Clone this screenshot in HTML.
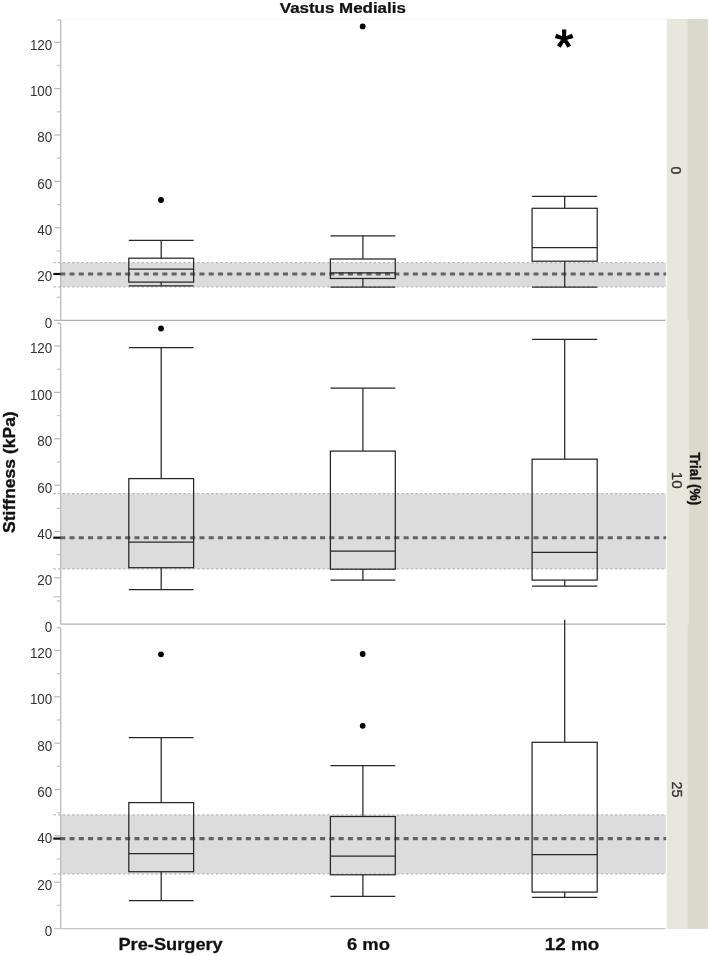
<!DOCTYPE html><html><head><meta charset="utf-8"><title>Vastus Medialis</title>
<style>html,body{margin:0;padding:0;background:#fff;}svg{display:block}text{font-family:"Liberation Sans",sans-serif;}</style></head><body>
<svg width="709" height="956" viewBox="0 0 709 956">
<rect width="709" height="956" fill="#fff"/>
<rect x="666.9" y="19.0" width="41.0" height="909.9" fill="#dbd9cb"/>
<rect x="666.9" y="19.0" width="20.6" height="302" fill="#e8e7de"/>
<rect x="666.9" y="320.6" width="22.2" height="304" fill="#e8e7de"/>
<rect x="666.9" y="624.3" width="20.7" height="304.6" fill="#e8e7de"/>
<line x1="60.7" x2="667" y1="18.9" y2="18.9" stroke="#f6f6f6" stroke-width="1.2"/>
<rect x="60.7" y="262.7" width="605.0" height="24.1" fill="#dcdcdc"/>
<line x1="53.5" x2="666.2" y1="262.7" y2="262.7" stroke="#b8b8b8" stroke-width="1.2" stroke-dasharray="2.32 2.32"/>
<line x1="53.5" x2="666.2" y1="286.8" y2="286.8" stroke="#b8b8b8" stroke-width="1.2" stroke-dasharray="2.32 2.32"/>
<line x1="54.2" x2="665.4" y1="320.45" y2="320.45" stroke="#b0b0b0" stroke-width="1.3"/>
<line x1="60.7" x2="60.7" y1="20.0" y2="320.45" stroke="#b9b9b9" stroke-width="1.3"/>
<line x1="56.8" x2="60.7" y1="20.0" y2="20.0" stroke="#b9b9b9" stroke-width="1.2"/>
<text transform="translate(52.3 327.85) scale(0.96 1)" font-size="14" text-anchor="end" fill="#333">0</text>
<line x1="56.8" x2="60.7" y1="297.27" y2="297.27" stroke="#c4c4c4" stroke-width="1.2"/>
<line x1="54.2" x2="60.7" y1="274.09" y2="274.09" stroke="#b9b9b9" stroke-width="1.2"/>
<text transform="translate(52.3 281.49) scale(0.96 1)" font-size="14" text-anchor="end" fill="#333">20</text>
<line x1="56.8" x2="60.7" y1="250.91" y2="250.91" stroke="#c4c4c4" stroke-width="1.2"/>
<line x1="54.2" x2="60.7" y1="227.73" y2="227.73" stroke="#b9b9b9" stroke-width="1.2"/>
<text transform="translate(52.3 235.13) scale(0.96 1)" font-size="14" text-anchor="end" fill="#333">40</text>
<line x1="56.8" x2="60.7" y1="204.55" y2="204.55" stroke="#c4c4c4" stroke-width="1.2"/>
<line x1="54.2" x2="60.7" y1="181.37" y2="181.37" stroke="#b9b9b9" stroke-width="1.2"/>
<text transform="translate(52.3 188.77) scale(0.96 1)" font-size="14" text-anchor="end" fill="#333">60</text>
<line x1="56.8" x2="60.7" y1="158.19" y2="158.19" stroke="#c4c4c4" stroke-width="1.2"/>
<line x1="54.2" x2="60.7" y1="135.01" y2="135.01" stroke="#b9b9b9" stroke-width="1.2"/>
<text transform="translate(52.3 142.41) scale(0.96 1)" font-size="14" text-anchor="end" fill="#333">80</text>
<line x1="56.8" x2="60.7" y1="111.83" y2="111.83" stroke="#c4c4c4" stroke-width="1.2"/>
<line x1="54.2" x2="60.7" y1="88.65" y2="88.65" stroke="#b9b9b9" stroke-width="1.2"/>
<text transform="translate(52.3 96.05) scale(0.96 1)" font-size="14" text-anchor="end" fill="#333">100</text>
<line x1="56.8" x2="60.7" y1="65.47" y2="65.47" stroke="#c4c4c4" stroke-width="1.2"/>
<line x1="54.2" x2="60.7" y1="42.29" y2="42.29" stroke="#b9b9b9" stroke-width="1.2"/>
<text transform="translate(52.3 49.69) scale(0.96 1)" font-size="14" text-anchor="end" fill="#333">120</text>
<line x1="60.2" x2="666.2" y1="274.0" y2="274.0" stroke="#636363" stroke-width="3.1" stroke-dasharray="5.1 4.18"/>
<line x1="53.3" x2="60.6" y1="274.0" y2="274.0" stroke="#111" stroke-width="2.2"/>
<line x1="161.2" x2="161.2" y1="240.4" y2="258.2" stroke="#262626" stroke-width="1.25"/>
<line x1="161.2" x2="161.2" y1="282.1" y2="285.8" stroke="#262626" stroke-width="1.25"/>
<line x1="128.8" x2="193.6" y1="240.4" y2="240.4" stroke="#262626" stroke-width="1.25"/>
<line x1="128.8" x2="193.6" y1="285.8" y2="285.8" stroke="#262626" stroke-width="1.25"/>
<rect x="128.8" y="258.2" width="64.8" height="23.9" fill="none" stroke="#262626" stroke-width="1.25"/>
<line x1="128.8" x2="193.6" y1="269.2" y2="269.2" stroke="#262626" stroke-width="1.25"/>
<circle cx="161.0" cy="200.0" r="2.9" fill="#000"/>
<line x1="362.9" x2="362.9" y1="235.9" y2="259.0" stroke="#262626" stroke-width="1.25"/>
<line x1="362.9" x2="362.9" y1="278.5" y2="287.0" stroke="#262626" stroke-width="1.25"/>
<line x1="330.4" x2="395.3" y1="235.9" y2="235.9" stroke="#262626" stroke-width="1.25"/>
<line x1="330.4" x2="395.3" y1="287.0" y2="287.0" stroke="#262626" stroke-width="1.25"/>
<rect x="330.4" y="259.0" width="64.9" height="19.5" fill="none" stroke="#262626" stroke-width="1.25"/>
<line x1="330.4" x2="395.3" y1="272.8" y2="272.8" stroke="#262626" stroke-width="1.25"/>
<circle cx="362.7" cy="26.4" r="2.9" fill="#000"/>
<line x1="564.7" x2="564.7" y1="196.4" y2="208.3" stroke="#262626" stroke-width="1.25"/>
<line x1="564.7" x2="564.7" y1="261.2" y2="287.0" stroke="#262626" stroke-width="1.25"/>
<line x1="532.1" x2="597.2" y1="196.4" y2="196.4" stroke="#262626" stroke-width="1.25"/>
<line x1="532.1" x2="597.2" y1="287.0" y2="287.0" stroke="#262626" stroke-width="1.25"/>
<rect x="532.1" y="208.3" width="65.1" height="52.9" fill="none" stroke="#262626" stroke-width="1.25"/>
<line x1="532.1" x2="597.2" y1="247.7" y2="247.7" stroke="#262626" stroke-width="1.25"/>
<rect x="60.7" y="493.6" width="605.0" height="75.3" fill="#dcdcdc"/>
<line x1="53.5" x2="666.2" y1="493.6" y2="493.6" stroke="#b8b8b8" stroke-width="1.2" stroke-dasharray="2.32 2.32"/>
<line x1="53.5" x2="666.2" y1="568.9" y2="568.9" stroke="#b8b8b8" stroke-width="1.2" stroke-dasharray="2.32 2.32"/>
<line x1="60.7" x2="665.4" y1="624.2" y2="624.2" stroke="#b0b0b0" stroke-width="1.3"/>
<line x1="60.7" x2="60.7" y1="323.3" y2="624.2" stroke="#b9b9b9" stroke-width="1.3"/>
<line x1="56.8" x2="60.7" y1="323.3" y2="323.3" stroke="#b9b9b9" stroke-width="1.2"/>
<text transform="translate(52.3 631.60) scale(0.96 1)" font-size="14" text-anchor="end" fill="#333">0</text>
<line x1="56.8" x2="60.7" y1="601.02" y2="601.02" stroke="#c4c4c4" stroke-width="1.2"/>
<line x1="54.2" x2="60.7" y1="577.84" y2="577.84" stroke="#b9b9b9" stroke-width="1.2"/>
<text transform="translate(52.3 585.24) scale(0.96 1)" font-size="14" text-anchor="end" fill="#333">20</text>
<line x1="56.8" x2="60.7" y1="554.66" y2="554.66" stroke="#c4c4c4" stroke-width="1.2"/>
<line x1="54.2" x2="60.7" y1="531.48" y2="531.48" stroke="#b9b9b9" stroke-width="1.2"/>
<text transform="translate(52.3 538.88) scale(0.96 1)" font-size="14" text-anchor="end" fill="#333">40</text>
<line x1="56.8" x2="60.7" y1="508.30" y2="508.30" stroke="#c4c4c4" stroke-width="1.2"/>
<line x1="54.2" x2="60.7" y1="485.12" y2="485.12" stroke="#b9b9b9" stroke-width="1.2"/>
<text transform="translate(52.3 492.52) scale(0.96 1)" font-size="14" text-anchor="end" fill="#333">60</text>
<line x1="56.8" x2="60.7" y1="461.94" y2="461.94" stroke="#c4c4c4" stroke-width="1.2"/>
<line x1="54.2" x2="60.7" y1="438.76" y2="438.76" stroke="#b9b9b9" stroke-width="1.2"/>
<text transform="translate(52.3 446.16) scale(0.96 1)" font-size="14" text-anchor="end" fill="#333">80</text>
<line x1="56.8" x2="60.7" y1="415.58" y2="415.58" stroke="#c4c4c4" stroke-width="1.2"/>
<line x1="54.2" x2="60.7" y1="392.40" y2="392.40" stroke="#b9b9b9" stroke-width="1.2"/>
<text transform="translate(52.3 399.80) scale(0.96 1)" font-size="14" text-anchor="end" fill="#333">100</text>
<line x1="56.8" x2="60.7" y1="369.22" y2="369.22" stroke="#c4c4c4" stroke-width="1.2"/>
<line x1="54.2" x2="60.7" y1="346.04" y2="346.04" stroke="#b9b9b9" stroke-width="1.2"/>
<text transform="translate(52.3 353.44) scale(0.96 1)" font-size="14" text-anchor="end" fill="#333">120</text>
<line x1="60.2" x2="666.2" y1="537.7" y2="537.7" stroke="#636363" stroke-width="3.1" stroke-dasharray="5.1 4.18"/>
<line x1="53.3" x2="60.6" y1="537.7" y2="537.7" stroke="#111" stroke-width="2.2"/>
<line x1="161.2" x2="161.2" y1="347.6" y2="478.6" stroke="#262626" stroke-width="1.25"/>
<line x1="161.2" x2="161.2" y1="567.7" y2="589.7" stroke="#262626" stroke-width="1.25"/>
<line x1="128.8" x2="193.6" y1="347.6" y2="347.6" stroke="#262626" stroke-width="1.25"/>
<line x1="128.8" x2="193.6" y1="589.7" y2="589.7" stroke="#262626" stroke-width="1.25"/>
<rect x="128.8" y="478.6" width="64.8" height="89.1" fill="none" stroke="#262626" stroke-width="1.25"/>
<line x1="128.8" x2="193.6" y1="542.2" y2="542.2" stroke="#262626" stroke-width="1.25"/>
<circle cx="161.0" cy="328.5" r="2.9" fill="#000"/>
<line x1="362.9" x2="362.9" y1="388.0" y2="451.1" stroke="#262626" stroke-width="1.25"/>
<line x1="362.9" x2="362.9" y1="569.2" y2="580.0" stroke="#262626" stroke-width="1.25"/>
<line x1="330.4" x2="395.3" y1="388.0" y2="388.0" stroke="#262626" stroke-width="1.25"/>
<line x1="330.4" x2="395.3" y1="580.0" y2="580.0" stroke="#262626" stroke-width="1.25"/>
<rect x="330.4" y="451.1" width="64.9" height="118.1" fill="none" stroke="#262626" stroke-width="1.25"/>
<line x1="330.4" x2="395.3" y1="551.1" y2="551.1" stroke="#262626" stroke-width="1.25"/>
<line x1="564.7" x2="564.7" y1="339.4" y2="459.2" stroke="#262626" stroke-width="1.25"/>
<line x1="564.7" x2="564.7" y1="580.1" y2="586.0" stroke="#262626" stroke-width="1.25"/>
<line x1="532.1" x2="597.2" y1="339.4" y2="339.4" stroke="#262626" stroke-width="1.25"/>
<line x1="532.1" x2="597.2" y1="586.0" y2="586.0" stroke="#262626" stroke-width="1.25"/>
<rect x="532.1" y="459.2" width="65.1" height="120.9" fill="none" stroke="#262626" stroke-width="1.25"/>
<line x1="532.1" x2="597.2" y1="552.3" y2="552.3" stroke="#262626" stroke-width="1.25"/>
<rect x="60.7" y="814.9" width="605.0" height="58.9" fill="#dcdcdc"/>
<line x1="53.5" x2="666.2" y1="814.9" y2="814.9" stroke="#b8b8b8" stroke-width="1.2" stroke-dasharray="2.32 2.32"/>
<line x1="53.5" x2="666.2" y1="873.8" y2="873.8" stroke="#b8b8b8" stroke-width="1.2" stroke-dasharray="2.32 2.32"/>
<line x1="54.2" x2="665.4" y1="928.6" y2="928.6" stroke="#c4c4c4" stroke-width="1.3"/>
<line x1="60.7" x2="60.7" y1="627.8" y2="928.6" stroke="#b9b9b9" stroke-width="1.3"/>
<line x1="56.8" x2="60.7" y1="627.8" y2="627.8" stroke="#b9b9b9" stroke-width="1.2"/>
<text transform="translate(52.3 936.00) scale(0.96 1)" font-size="14" text-anchor="end" fill="#333">0</text>
<line x1="56.8" x2="60.7" y1="905.42" y2="905.42" stroke="#c4c4c4" stroke-width="1.2"/>
<line x1="54.2" x2="60.7" y1="882.24" y2="882.24" stroke="#b9b9b9" stroke-width="1.2"/>
<text transform="translate(52.3 889.64) scale(0.96 1)" font-size="14" text-anchor="end" fill="#333">20</text>
<line x1="56.8" x2="60.7" y1="859.06" y2="859.06" stroke="#c4c4c4" stroke-width="1.2"/>
<line x1="54.2" x2="60.7" y1="835.88" y2="835.88" stroke="#b9b9b9" stroke-width="1.2"/>
<text transform="translate(52.3 843.28) scale(0.96 1)" font-size="14" text-anchor="end" fill="#333">40</text>
<line x1="56.8" x2="60.7" y1="812.70" y2="812.70" stroke="#c4c4c4" stroke-width="1.2"/>
<line x1="54.2" x2="60.7" y1="789.52" y2="789.52" stroke="#b9b9b9" stroke-width="1.2"/>
<text transform="translate(52.3 796.92) scale(0.96 1)" font-size="14" text-anchor="end" fill="#333">60</text>
<line x1="56.8" x2="60.7" y1="766.34" y2="766.34" stroke="#c4c4c4" stroke-width="1.2"/>
<line x1="54.2" x2="60.7" y1="743.16" y2="743.16" stroke="#b9b9b9" stroke-width="1.2"/>
<text transform="translate(52.3 750.56) scale(0.96 1)" font-size="14" text-anchor="end" fill="#333">80</text>
<line x1="56.8" x2="60.7" y1="719.98" y2="719.98" stroke="#c4c4c4" stroke-width="1.2"/>
<line x1="54.2" x2="60.7" y1="696.80" y2="696.80" stroke="#b9b9b9" stroke-width="1.2"/>
<text transform="translate(52.3 704.20) scale(0.96 1)" font-size="14" text-anchor="end" fill="#333">100</text>
<line x1="56.8" x2="60.7" y1="673.62" y2="673.62" stroke="#c4c4c4" stroke-width="1.2"/>
<line x1="54.2" x2="60.7" y1="650.44" y2="650.44" stroke="#b9b9b9" stroke-width="1.2"/>
<text transform="translate(52.3 657.84) scale(0.96 1)" font-size="14" text-anchor="end" fill="#333">120</text>
<line x1="60.2" x2="666.2" y1="838.6" y2="838.6" stroke="#636363" stroke-width="3.1" stroke-dasharray="5.1 4.18"/>
<line x1="53.3" x2="60.6" y1="838.6" y2="838.6" stroke="#111" stroke-width="2.2"/>
<line x1="161.2" x2="161.2" y1="737.7" y2="802.6" stroke="#262626" stroke-width="1.25"/>
<line x1="161.2" x2="161.2" y1="871.7" y2="900.6" stroke="#262626" stroke-width="1.25"/>
<line x1="128.8" x2="193.6" y1="737.7" y2="737.7" stroke="#262626" stroke-width="1.25"/>
<line x1="128.8" x2="193.6" y1="900.6" y2="900.6" stroke="#262626" stroke-width="1.25"/>
<rect x="128.8" y="802.6" width="64.8" height="69.1" fill="none" stroke="#262626" stroke-width="1.25"/>
<line x1="128.8" x2="193.6" y1="853.5" y2="853.5" stroke="#262626" stroke-width="1.25"/>
<circle cx="161.0" cy="654.3" r="2.9" fill="#000"/>
<line x1="362.9" x2="362.9" y1="765.6" y2="816.5" stroke="#262626" stroke-width="1.25"/>
<line x1="362.9" x2="362.9" y1="874.8" y2="896.3" stroke="#262626" stroke-width="1.25"/>
<line x1="330.4" x2="395.3" y1="765.6" y2="765.6" stroke="#262626" stroke-width="1.25"/>
<line x1="330.4" x2="395.3" y1="896.3" y2="896.3" stroke="#262626" stroke-width="1.25"/>
<rect x="330.4" y="816.5" width="64.9" height="58.3" fill="none" stroke="#262626" stroke-width="1.25"/>
<line x1="330.4" x2="395.3" y1="856.0" y2="856.0" stroke="#262626" stroke-width="1.25"/>
<circle cx="362.7" cy="654.0" r="2.9" fill="#000"/>
<circle cx="362.7" cy="725.8" r="2.9" fill="#000"/>
<line x1="564.7" x2="564.7" y1="619.7" y2="742.3" stroke="#262626" stroke-width="1.25"/>
<line x1="564.7" x2="564.7" y1="892.1" y2="897.3" stroke="#262626" stroke-width="1.25"/>
<line x1="532.1" x2="597.2" y1="897.3" y2="897.3" stroke="#262626" stroke-width="1.25"/>
<rect x="532.1" y="742.3" width="65.1" height="149.8" fill="none" stroke="#262626" stroke-width="1.25"/>
<line x1="532.1" x2="597.2" y1="854.5" y2="854.5" stroke="#262626" stroke-width="1.25"/>
<line x1="53.3" x2="60.7" y1="596.8" y2="596.8" stroke="#c4c4c4" stroke-width="1.2"/>
<text transform="translate(342.8 12.7) scale(1.1 1)" font-size="15.4" font-weight="bold" text-anchor="middle" fill="#111" stroke="#111" stroke-width="0.25">Vastus Medialis</text>
<text x="564.2" y="62.7" font-size="48" text-anchor="middle" fill="#000" stroke="#000" stroke-width="1.1" stroke-linejoin="miter">*</text>
<text transform="translate(170.6 949.6) scale(1.14 1)" font-size="16" font-weight="bold" text-anchor="middle" fill="#111" stroke="#111" stroke-width="0.25">Pre-Surgery</text>
<text transform="translate(368.4 949.6) scale(1.15 1)" font-size="16" font-weight="bold" text-anchor="middle" fill="#111" stroke="#111" stroke-width="0.25">6 mo</text>
<text transform="translate(572 949.6) scale(1.175 1)" font-size="16" font-weight="bold" text-anchor="middle" fill="#111" stroke="#111" stroke-width="0.25">12 mo</text>
<text transform="translate(15.4 472.1) rotate(-90) scale(1.03 1)" font-size="17" font-weight="bold" text-anchor="middle" fill="#111" stroke="#111" stroke-width="0.35">Stiffness (kPa)</text>
<text transform="translate(670.6 170.4) rotate(90) scale(1.0 1)" font-size="14" text-anchor="middle" fill="#333" stroke="#333" stroke-width="0.3">0</text>
<text transform="translate(671.6 480.2) rotate(90) scale(1.08 1)" font-size="14" text-anchor="middle" fill="#333" stroke="#333" stroke-width="0.3">10</text>
<text transform="translate(671.7 789.5) rotate(90) scale(1.03 1)" font-size="14" text-anchor="middle" fill="#333" stroke="#333" stroke-width="0.3">25</text>
<text transform="translate(690.1 478.7) rotate(90) scale(0.933 1)" font-size="14.6" font-weight="bold" text-anchor="middle" fill="#111" stroke="#111" stroke-width="0.35">Trial (%)</text>
</svg></body></html>
